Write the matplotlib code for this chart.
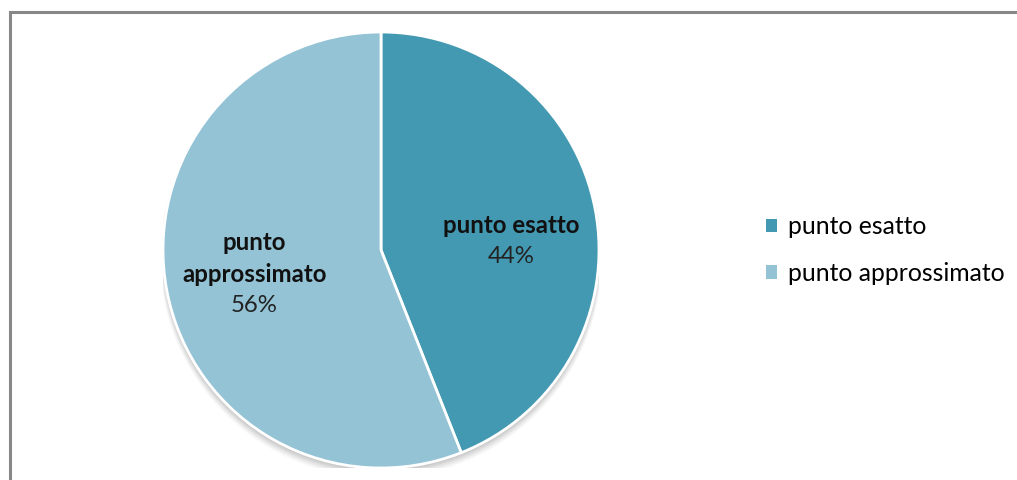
import numpy as np
import matplotlib.pyplot as plt
from matplotlib.patches import Rectangle, Circle

labels = ['punto esatto', 'punto approssimato']
label_lines = [['punto esatto'], ['punto', 'approssimato']]
values = [44, 56]
colors = ['#4399B1', '#93C3D5']

plt.rcParams['font.family'] = ['Lato', 'DejaVu Sans']

W, H = 1017, 480
fig = plt.figure(figsize=(W / 100, H / 100), dpi=100)

# gray frame (chart area border, runs off right/bottom)
fig.patches.append(Rectangle((9.5 / W, -0.1), 1.2, (H - 12) / H + 0.1,
                             transform=fig.transFigure, fill=False,
                             edgecolor='#878787', linewidth=2.2))

cx, cy, r = 381, 250, 218
ax = fig.add_axes([(cx - r) / W, (H - cy - r) / H, 2 * r / W, 2 * r / H])
ax.axis('off')

# soft shadow under the pie
for k, a in zip(range(6), [0.05, 0.045, 0.04, 0.035, 0.03, 0.025]):
    ax.add_patch(Circle((0, -0.012 - k * 0.004), 1.0 + k * 0.003,
                        color='black', alpha=a, lw=0, zorder=0))

wedges, _ = ax.pie(values, colors=colors, startangle=90, counterclock=False,
                   radius=1.0, wedgeprops=dict(edgecolor='white', linewidth=2),
                   center=(0, 0))
for w in wedges:
    w.set_zorder(2)

ax.set_xlim(-1.0, 1.0)
ax.set_ylim(-1.0, 1.0)
ax.set_aspect('equal')

px = 1 / r  # one pixel in data units
fs = 17.3
for w, lines, v in zip(wedges, label_lines, values):
    mid = np.deg2rad((w.theta1 + w.theta2) / 2)
    x = 0.6 * np.cos(mid) + 2 * px
    y = 0.6 * np.sin(mid)
    for i, line in enumerate(reversed(lines)):
        ax.text(x, y + i * 32 * px, line, ha='center', va='center', fontsize=fs,
                fontweight='bold', color='#111111', zorder=3)
    ax.text(x, y - 31 * px, f'{v}%', ha='center', va='center', fontsize=fs,
            color='#222222', zorder=3)

handles = [Rectangle((0, 0), 1, 1, facecolor=c, edgecolor='none') for c in colors]
fig.legend(handles, labels, loc='center left', bbox_to_anchor=(744 / W, 1 - 250 / H),
           frameon=False, fontsize=17.8, handlelength=0.45, handleheight=0.45,
           handletextpad=0.45, labelspacing=0.95)

fig.savefig('out.png', dpi=100)
